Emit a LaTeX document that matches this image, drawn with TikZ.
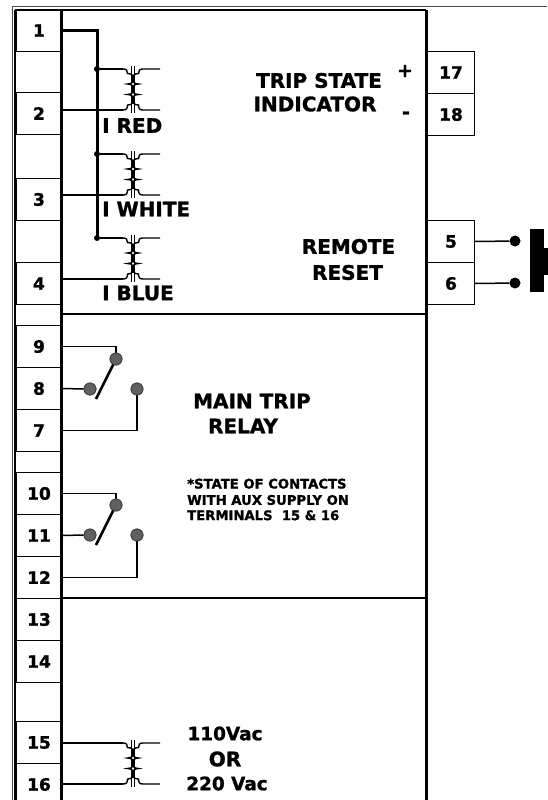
\documentclass[tikz,border=0pt]{standalone}
\usepackage{fontspec}
\setmainfont{DejaVu Sans}[BoldFeatures={FakeBold=1.3}]
\begin{document}
\begin{tikzpicture}[x=1pt,y=-1pt,
  term/.style={draw, line width=1pt, minimum width=45pt, minimum height=42pt, inner sep=0pt, anchor=north west, font=\fontsize{17}{17}\selectfont\bfseries},
  rterm/.style={term, minimum width=47pt},
  lbl/.style={inner sep=0pt, font=\fontsize{20}{20}\selectfont\bfseries},
  small/.style={inner sep=0pt, anchor=west, font=\fontsize{13.2}{13.2}\selectfont\bfseries},
  wire/.style={line width=1.5pt},
  thickwire/.style={line width=3pt},
  blade/.style={line width=2.6pt},
  contact/.style={circle, fill=gray!75!black, draw=gray!50!black, line width=0.8pt, minimum size=12pt, inner sep=0pt},
  dot/.style={circle, fill=black, minimum size=6pt, inner sep=0pt},
  bigdot/.style={circle, fill=black, minimum size=11pt, inner sep=0pt},
  core/.style={line width=1.2pt},
  coil/.style={line width=1.4pt},
  xfmr/.pic={
    \draw[core] (-1.3,-3) -- (-1.3,44);
    \draw[core] (1.3,-3) -- (1.3,44);
    \draw[coil] (-10,0) .. controls (-6.5,0) and (-5.5,1.5) .. (-5.5,4.5)
      .. controls (3,4.5) and (3,15) .. (-5.5,15)
      .. controls (3,15) and (3,25.5) .. (-5.5,25.5)
      .. controls (3,25.5) and (3,36) .. (-5.5,36)
      .. controls (-5.5,39.5) and (-6.5,41) .. (-10,41);
    \draw[coil] (27,0) -- (10,0) .. controls (6.5,0) and (5.5,1.5) .. (5.5,4.5)
      .. controls (-3,4.5) and (-3,15) .. (5.5,15)
      .. controls (-3,15) and (-3,25.5) .. (5.5,25.5)
      .. controls (-3,25.5) and (-3,36) .. (5.5,36)
      .. controls (5.5,39.5) and (6.5,41) .. (10,41) -- (27,41);
    \coordinate (-p1) at (-10,0);
    \coordinate (-p2) at (-10,41);
  }
]
\useasboundingbox (0,0) rectangle (547,800);

% frame
\draw[line width=1pt, gray!60!black] (12,805) -- (12,7) -- (547,7);
\draw[line width=1.1pt] (15,805) -- (15,10);
\draw[line width=2pt] (15,10) -- (426,10);
\draw[line width=3pt] (61,805) -- (61,10);
\draw[line width=3pt] (426,10) -- (426,805);
\draw[line width=1.1pt] (61,314) -- (426,314);
\draw[line width=1.1pt] (61,598) -- (426,598);

% left terminals
\node[term] (t1) at (16,9) {1};
\node[term] (t2) at (16,92) {2};
\node[term] (t3) at (16,178) {3};
\node[term] (t4) at (16,262) {4};
\node[term] (t9) at (16,325) {9};
\node[term] (t8) at (16,367) {8};
\node[term] (t7) at (16,409) {7};
\node[term] (t10) at (16,472) {10};
\node[term] (t11) at (16,514) {11};
\node[term] (t12) at (16,556) {12};
\node[term] (t13) at (16,598) {13};
\node[term] (t14) at (16,640) {14};
\node[term] (t15) at (16,721) {15};
\node[term] (t16) at (16,763) {16};

% right terminals
\node[rterm] (t17) at (427,51) {17};
\node[rterm] (t18) at (427,93) {18};
\node[rterm] (t5) at (427,220) {5};
\node[rterm] (t6) at (427,262) {6};

% current transformers
\pic (trR) at (133,69) {xfmr};
\pic (trW) at (133,154) {xfmr};
\pic (trB) at (133,238) {xfmr};
\pic (trS) at (133,743) {xfmr};

\node[dot] (d1) at (97,69) {};
\node[dot] (d2) at (97,154) {};
\node[dot] (d3) at (97,238) {};

\draw[thickwire] (t1.east) -| (d3.center);
\draw[wire] (d1) -- (trR-p1);
\draw[wire] (d2) -- (trW-p1);
\draw[wire] (d3) -- (trB-p1);
\draw[wire] (t2.east |- trR-p2) -- (trR-p2);
\draw[wire] (t3.east |- trW-p2) -- (trW-p2);
\draw[wire] (t4.east |- trB-p2) -- (trB-p2);
\draw[wire] (t15.east |- trS-p1) -- (trS-p1);
\draw[wire] (t16.east |- trS-p2) -- (trS-p2);

\node[lbl, anchor=west] (lr) at (102,125.5) {I RED};
\node[lbl, anchor=west] (lw) at (102,209) {I WHITE};
\node[lbl, anchor=west] (lb) at (102,293) {I BLUE};

% trip state indicator
\node[lbl] (ts1) at (319,80.5) {TRIP STATE};
\node[lbl] (ts2) at (315,104) {INDICATOR};
\node[inner sep=0pt, font=\fontsize{19}{19}\selectfont\bfseries] (plus) at (405,71) {+};
\node[inner sep=0pt, font=\fontsize{19}{19}\selectfont\bfseries] (minus) at (406,115) {-};

% remote reset
\node[lbl] (rr1) at (348.5,246.5) {REMOTE};
\node[lbl] (rr2) at (347.5,272.5) {RESET};
\node[bigdot] (b5) at (515,241) {};
\node[bigdot] (b6) at (515,283) {};
\draw[wire] (t5.east) -- (b5);
\draw[wire] (t6.east) -- (b6);
\fill (530,229) rectangle (544,292);
\fill (543,248) rectangle (548,275);

% main trip relay contacts
\node[contact] (c9) at (116,359) {};
\node[contact] (c8) at (90,389) {};
\node[contact] (c7) at (137,389) {};
\coordinate (k1) at (96,399);
\draw[wire] (t9.east) -| (c9.north);
\draw[wire] (t8.east) -- (c8.west);
\draw[wire] (t7.east) -| (c7.south);
\draw[blade] (k1) -- (c9.center);

\node[contact] (c10) at (116,505) {};
\node[contact] (c11) at (90,535) {};
\node[contact] (c12) at (137,535) {};
\coordinate (k2) at (96,545);
\draw[wire] (t10.east) -| (c10.north);
\draw[wire] (t11.east) -- (c11.west);
\draw[wire] (t12.east) -| (c12.south);
\draw[blade] (k2) -- (c10.center);

% redraw contacts on top
\foreach \c in {c9,c8,c7,c10,c11,c12} \node[contact] at (\c) {};

\node[lbl] (mt1) at (252,401) {MAIN TRIP};
\node[lbl] (mt2) at (243,426) {RELAY};
\node[small] (n1) at (187,483.7) {*STATE OF CONTACTS};
\node[small] (n2) at (187,500) {WITH AUX SUPPLY ON};
\node[small] (n3) at (187,515.3) {TERMINALS\ \ 15 \& 16};

% aux supply
\node[lbl, font=\fontsize{18.4}{18.4}\selectfont\bfseries] (v1) at (225,733.5) {110Vac};
\node[lbl] (v2) at (225,759) {OR};
\node[lbl, font=\fontsize{18.4}{18.4}\selectfont\bfseries] (v3) at (227,783.5) {220 Vac};
\end{tikzpicture}
\end{document}
